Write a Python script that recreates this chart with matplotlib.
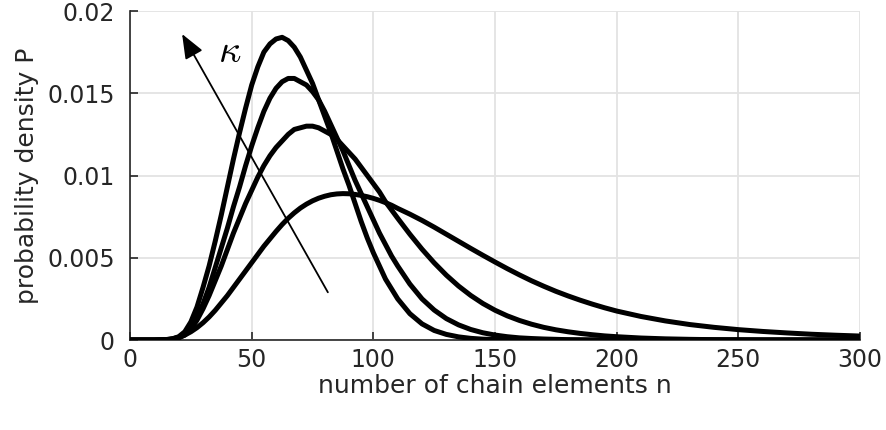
import matplotlib
matplotlib.use('Agg')
import matplotlib.pyplot as plt

## number of chain elements (x grid shared by all curves)
n = ([0, 5, 10] +
     [15, 17.5, 20, 22.5, 25, 27.5, 30, 32.5, 35, 37.5, 40, 42.5, 45, 47.5, 50, 52.5,
      55, 57.5, 60, 62.5, 65, 67.5, 70, 72.5, 75, 77.5, 80, 82.5, 85, 87.5, 90, 92.5,
      95, 97.5, 100, 102.5, 105, 107.5, 110] +
     [115, 120, 125, 130, 135, 140, 145, 150, 155, 160, 165, 170, 175, 180, 185, 190, 195, 200] +
     [210, 220, 230, 240, 250, 260, 270, 280, 290, 300])

## probability density for the four kappa values (highest peak first)
p_a = ([0, 0, 0] +
       [0.00002, 0.00007, 0.0002, 0.0005, 0.0011, 0.0020, 0.0032, 0.0045, 0.0060, 0.0076,
        0.0093, 0.0110, 0.0126, 0.0141, 0.0155, 0.0166, 0.0175, 0.0180, 0.0183, 0.0184,
        0.0182, 0.0178, 0.0172, 0.0164, 0.0156, 0.0146, 0.0136, 0.0126, 0.0115, 0.0104,
        0.0094, 0.0083, 0.0072, 0.0062, 0.0053, 0.0045, 0.0037, 0.0031, 0.0025] +
       [0.0016, 0.00098, 0.00058, 0.00034, 0.00019, 0.0001, 0.00005, 0.00003, 0.00001, 0,
        0, 0, 0, 0, 0, 0, 0, 0] +
       [0, 0, 0, 0, 0, 0, 0, 0, 0, 0])
p_b = ([0, 0, 0] +
       [0.00001, 0.00005, 0.00015, 0.0004, 0.0008, 0.0014, 0.0022, 0.0032, 0.0044, 0.0056,
        0.0068, 0.0081, 0.0093, 0.0106, 0.0118, 0.0129, 0.0139, 0.0147, 0.0153, 0.0157,
        0.0159, 0.0159, 0.0157, 0.0155, 0.0151, 0.0146, 0.0139, 0.0131, 0.0123, 0.0115,
        0.0106, 0.0097, 0.0089, 0.0081, 0.0073, 0.0065, 0.0058, 0.0051, 0.0045] +
       [0.0034, 0.0025, 0.00182, 0.0013, 0.00092, 0.00064, 0.00044, 0.0003, 0.0002, 0.00013,
        0.00009, 0.00006, 0.00004, 0.00002, 0.00001, 0, 0, 0] +
       [0, 0, 0, 0, 0, 0, 0, 0, 0, 0])
p_c = ([0, 0, 0] +
       [0.00001, 0.00004, 0.00012, 0.0003, 0.00065, 0.0012, 0.0019, 0.0027, 0.0036, 0.0045,
        0.0055, 0.0065, 0.0074, 0.0083, 0.0091, 0.0099, 0.0106, 0.0112, 0.0117, 0.0121,
        0.0125, 0.0128, 0.0129, 0.0130, 0.0130, 0.0129, 0.0127, 0.0125, 0.0122, 0.0118,
        0.0114, 0.0110, 0.0105, 0.0100, 0.0095, 0.0090, 0.0084, 0.0079, 0.0074] +
       [0.00643, 0.00552, 0.00469, 0.00394, 0.00328, 0.00271, 0.00222, 0.00181, 0.00147,
        0.00119, 0.00096, 0.00077, 0.00062, 0.0005, 0.0004, 0.00032, 0.00025, 0.0002] +
       [0.00012, 0.00007, 0.00004, 0.00002, 0.00001, 0, 0, 0, 0, 0])
p_d = ([0, 0, 0] +
       [0.00003, 0.00008, 0.00017, 0.0003, 0.0005, 0.00075, 0.00105, 0.0014, 0.0018, 0.00225,
        0.0027, 0.0032, 0.0037, 0.0042, 0.0047, 0.0052, 0.0057, 0.00615, 0.0066, 0.00702,
        0.0074, 0.00773, 0.00802, 0.00826, 0.00846, 0.00862, 0.00874, 0.00883, 0.00888, 0.0089,
        0.00889, 0.00885, 0.00879, 0.00871, 0.00861, 0.00849, 0.00835, 0.00819, 0.0080] +
       [0.00765, 0.00727, 0.00686, 0.00643, 0.0060, 0.00557, 0.00515, 0.00474, 0.00434,
        0.00396, 0.0036, 0.00327, 0.00296, 0.00268, 0.00242, 0.00218, 0.00196, 0.00176] +
       [0.00143, 0.00116, 0.00094, 0.00077, 0.00063, 0.00052, 0.00043, 0.00035, 0.00029, 0.00024])

x_ticks = [0, 50, 100, 150, 200, 250, 300]
y_ticks = [0, 0.005, 0.01, 0.015, 0.02]
y_tick_labels = ['0', '0.005', '0.01', '0.015', '0.02']

plt.rcParams['font.family'] = ['DejaVu Sans']
plt.rcParams['mathtext.fontset'] = 'cm'
text_col = '#262626'

fig = plt.figure(figsize=(8.87, 4.30), dpi=100)
ax = fig.add_axes([0.1466, 0.2093, 0.8230, 0.7651])

for p in (p_d, p_c, p_b, p_a):
    ax.plot(n, p, color='black', lw=3.6, solid_joinstyle='round',
            solid_capstyle='butt', zorder=3)

## arrow showing increasing kappa
ax.annotate('', xy=(21.4, 0.0186), xytext=(81.3, 0.0029),
            arrowprops=dict(arrowstyle='-|>,head_length=1.5,head_width=0.6',
                            color='black', lw=1.3, shrinkA=0, shrinkB=0), zorder=4)
ax.text(36, 0.0176, r'$\kappa$', fontsize=28, ha='left', va='center', zorder=4)

ax.set_xlim(0, 300)
ax.set_ylim(0, 0.02)
ax.set_xticks(x_ticks)
ax.set_yticks(y_ticks)
ax.set_yticklabels(y_tick_labels)
ax.grid(True, color='#e3e3e3', lw=1.3, zorder=0)
ax.set_axisbelow(True)
for side in ('top', 'right'):
    ax.spines[side].set_visible(False)
for side in ('left', 'bottom'):
    ax.spines[side].set_color(text_col)
    ax.spines[side].set_linewidth(1.2)
ax.tick_params(direction='in', length=6, width=1.2, colors=text_col,
               labelsize=17, pad=6)
ax.tick_params(axis='y', pad=11)
ax.set_xlabel('number of chain elements n', fontsize=18, color=text_col, labelpad=1)
ax.set_ylabel('probability density P', fontsize=18, color=text_col, labelpad=6)

fig.savefig('out.png', dpi=100)
